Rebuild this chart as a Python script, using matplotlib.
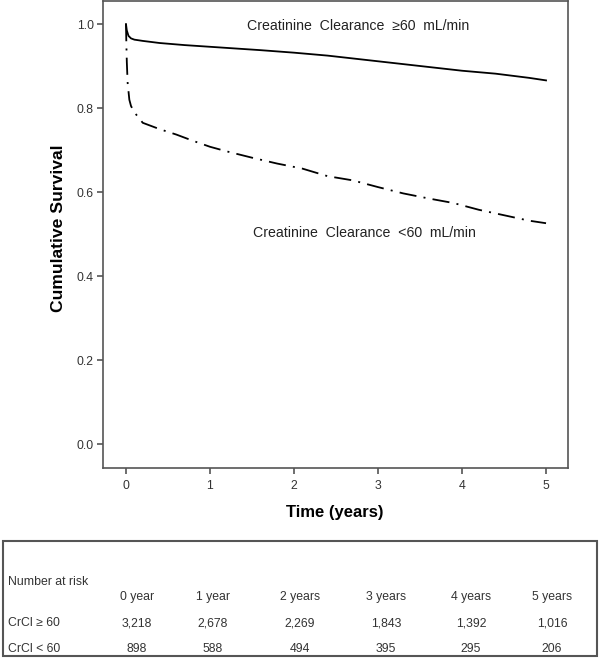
import matplotlib
matplotlib.use("Agg")
import matplotlib.pyplot as plt
from matplotlib.patches import Rectangle

plt.rcParams['font.family'] = ['Liberation Sans', 'DejaVu Sans']

# Kaplan-Meier curves
t_high = [0, 0.01, 0.03, 0.06, 0.1, 0.2, 0.4, 0.7, 1.0, 1.3, 1.6, 2.0, 2.4, 2.8,
          3.2, 3.6, 4.0, 4.4, 4.8, 5.0]
s_high = [1.0, 0.985, 0.972, 0.966, 0.963, 0.960, 0.955, 0.950, 0.946, 0.942,
          0.938, 0.932, 0.925, 0.916, 0.907, 0.898, 0.889, 0.882, 0.872, 0.866]

t_low = [0, 0.005, 0.01, 0.02, 0.04, 0.06, 0.1, 0.2, 0.4, 0.6, 0.8, 1.0, 1.2, 1.5,
         1.8, 2.1, 2.4, 2.7, 3.0, 3.3, 3.6, 3.9, 4.2, 4.5, 4.8, 5.0]
s_low = [1.0, 0.95, 0.91, 0.86, 0.82, 0.805, 0.79, 0.765, 0.75, 0.737, 0.722,
         0.708, 0.697, 0.682, 0.668, 0.656, 0.638, 0.628, 0.612, 0.597, 0.585,
         0.574, 0.558, 0.545, 0.532, 0.526]

label_high = "Creatinine  Clearance  \u226560  mL/min"
label_low = "Creatinine  Clearance  <60  mL/min"

x_ticks = [0, 1, 2, 3, 4, 5]
y_ticks = [0.0, 0.2, 0.4, 0.6, 0.8, 1.0]

# Number at risk table
risk_cols = ["0 year", "1 year", "2 years", "3 years", "4 years", "5 years"]
risk_rows = ["CrCl \u2265 60", "CrCl < 60"]
risk_high = ["3,218", "2,678", "2,269", "1,843", "1,392", "1,016"]
risk_low = ["898", "588", "494", "395", "295", "206"]

W, H = 600, 659
fig = plt.figure(figsize=(6.0, 6.59), dpi=100)

def fx(px):
    return px / W

def fy(py):
    return 1 - py / H

ax = fig.add_axes([fx(102.7), fy(467.7), fx(567.7) - fx(102.7), fy(1) - fy(467.7)])
ax.plot(t_high, s_high, color='black', lw=1.3, solid_joinstyle='round')
ax.plot(t_low, s_low, color='black', lw=1.3, linestyle=(0, (9.5, 4.0, 1.1, 4.0)))

ax.set_xlim(-0.277, 5.258)
ax.set_ylim(-0.056, 1.055)
ax.set_xticks(x_ticks)
ax.set_xticklabels([str(v) for v in x_ticks])
ax.set_yticks(y_ticks)
ax.set_yticklabels([f"{v:.1f}" for v in y_ticks])

for sp in ax.spines.values():
    sp.set_color('#555555')
    sp.set_linewidth(1.2)
ax.tick_params(axis='both', direction='out', length=4, width=1.2, color='#555555',
               labelsize=8.8, labelcolor='#333333')
ax.tick_params(axis='x', pad=4.5)
ax.tick_params(axis='y', pad=2.5)

ax.set_xlabel("Time (years)", fontsize=12, fontweight='bold', labelpad=10)
ax.set_ylabel("Cumulative Survival", fontsize=12.6, fontweight='bold')
ax.yaxis.set_label_coords(-0.079, 0.514)

ax.text(1.44, 0.995, label_high, fontsize=10.2, color='#222222', ha='left', va='center')
ax.text(1.51, 0.502, label_low, fontsize=10.2, color='#222222', ha='left', va='center')

# Risk table box
fig.patches.append(Rectangle((fx(3), fy(656)), fx(597) - fx(3), fy(541) - fy(656),
                             transform=fig.transFigure, fill=False,
                             edgecolor='#555555', lw=1.5))
tfs = 8.8
fig.text(fx(8.5), fy(582), "Number at risk", fontsize=tfs, color='#333333',
         ha='left', va='center')
col_x = [137, 213, 300, 386, 471, 552]
for cx, c in zip(col_x, risk_cols):
    fig.text(fx(cx), fy(597), c, fontsize=tfs, color='#333333', ha='center', va='center')
for cx, v in zip(col_x, risk_high):
    fig.text(fx(cx), fy(623), v, fontsize=tfs, color='#333333', ha='center', va='center')
for cx, v in zip(col_x, risk_low):
    fig.text(fx(cx), fy(649), v, fontsize=tfs, color='#333333', ha='center', va='center')
fig.text(fx(8.5), fy(623), risk_rows[0], fontsize=tfs, color='#333333', ha='left', va='center')
fig.text(fx(8.5), fy(649), risk_rows[1], fontsize=tfs, color='#333333', ha='left', va='center')

fig.savefig("out.png", dpi=100)
